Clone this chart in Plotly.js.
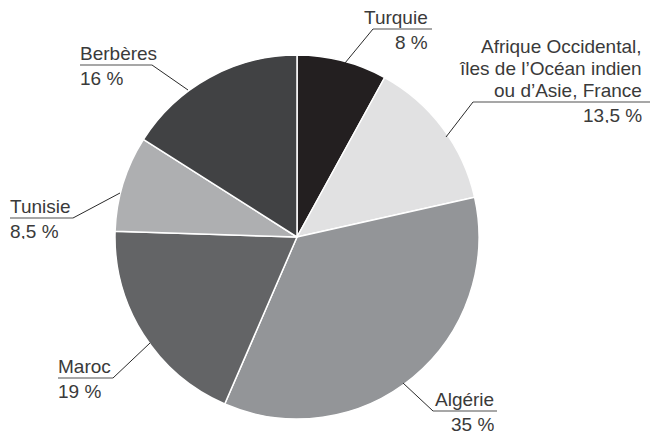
<!DOCTYPE html>
<html><head><meta charset="utf-8">
<script src="https://cdn.plot.ly/plotly-3.0.1.min.js"></script>
<style>body{margin:0;background:#fff}#chart{width:650px;height:437px}</style>
</head><body><div id="chart"></div>
<script>
const categories = ["Turquie", "Afrique Occidental,<br>îles de l’Océan indien<br>ou d’Asie, France", "Algérie", "Maroc", "Tunisie", "Berbères"];
const values = [8, 13.5, 35, 19, 8.5, 16];
const colors = ["#231f20", "#e1e1e2", "#939598", "#636466", "#aeafb1", "#414244"];

// label layout (pixel coordinates): anchor side, text x, underline y, underline ends, leader end
const labelPos = [
  {side:"right", tx:429, uy:29, ux0:373, ux1:432, lx:345, ly:63},
  {side:"right", tx:643, uy:102, ux0:473, ux1:650, lx:446, ly:137},
  {side:"right", tx:495, uy:411, ux0:433, ux1:497, lx:403, ly:383},
  {side:"left",  tx:57,  uy:378, ux0:58,  ux1:113, lx:150, ly:343},
  {side:"left",  tx:9,   uy:218, ux0:10,  ux1:73,  lx:120, ly:193},
  {side:"left",  tx:79,  uy:65,  ux0:80,  ux1:152, lx:188, ly:90}
];

const fontFam = "Liberation Sans, Arial, sans-serif";
const textCol = "#3a3a3a";
const fs = 19;
const lineGap = 22;

const annotations = [];
const shapes = [];
categories.forEach((c, i) => {
  const p = labelPos[i];
  const pct = String(values[i]).replace(".", ",") + " %";
  const anchor = p.side === "right" ? "right" : "left";
  const lines = c.split("<br>");
  lines.forEach((ln, k) => {
    const offset = (lines.length - 1 - k) * lineGap;
    annotations.push({x:p.tx, y:p.uy - offset, xref:"x", yref:"y", text:ln, showarrow:false,
      xanchor:anchor, yanchor:"bottom", align:anchor, borderpad:0,
      font:{family:fontFam, size:fs, color:textCol}});
  });
  annotations.push({x:p.tx, y:p.uy + 4, xref:"x", yref:"y", text:pct, showarrow:false,
    xanchor:anchor, yanchor:"top", align:anchor, valign:"middle", height:16, borderpad:0,
    font:{family:fontFam, size:fs, color:textCol}});
  shapes.push({type:"line", xref:"x", yref:"y", x0:p.ux0, x1:p.ux1, y0:p.uy, y1:p.uy,
    line:{color:"#8a8a8a", width:1.5}});
  const sx = p.side === "right" ? p.ux0 : p.ux1;
  shapes.push({type:"line", xref:"x", yref:"y", x0:sx, y0:p.uy, x1:p.lx, y1:p.ly,
    line:{color:"#2a2a2a", width:1}});
});

const data = [{
  type:"pie", values:values, labels:categories, sort:false, direction:"clockwise", rotation:0,
  marker:{colors:colors, line:{color:"#ffffff", width:1.5}},
  textinfo:"none", hoverinfo:"none",
  domain:{x:[115/650, 479/650], y:[1-419/437, 1-55/437]}
}];

const layout = {
  width:650, height:437, margin:{l:0,r:0,t:0,b:0}, showlegend:false,
  paper_bgcolor:"#fff", plot_bgcolor:"rgba(0,0,0,0)",
  xaxis:{range:[0,650], visible:false, fixedrange:true},
  yaxis:{range:[437,0], visible:false, fixedrange:true},
  annotations:annotations, shapes:shapes
};
Plotly.newPlot("chart", data, layout, {staticPlot:true, displayModeBar:false});
</script></body></html>
